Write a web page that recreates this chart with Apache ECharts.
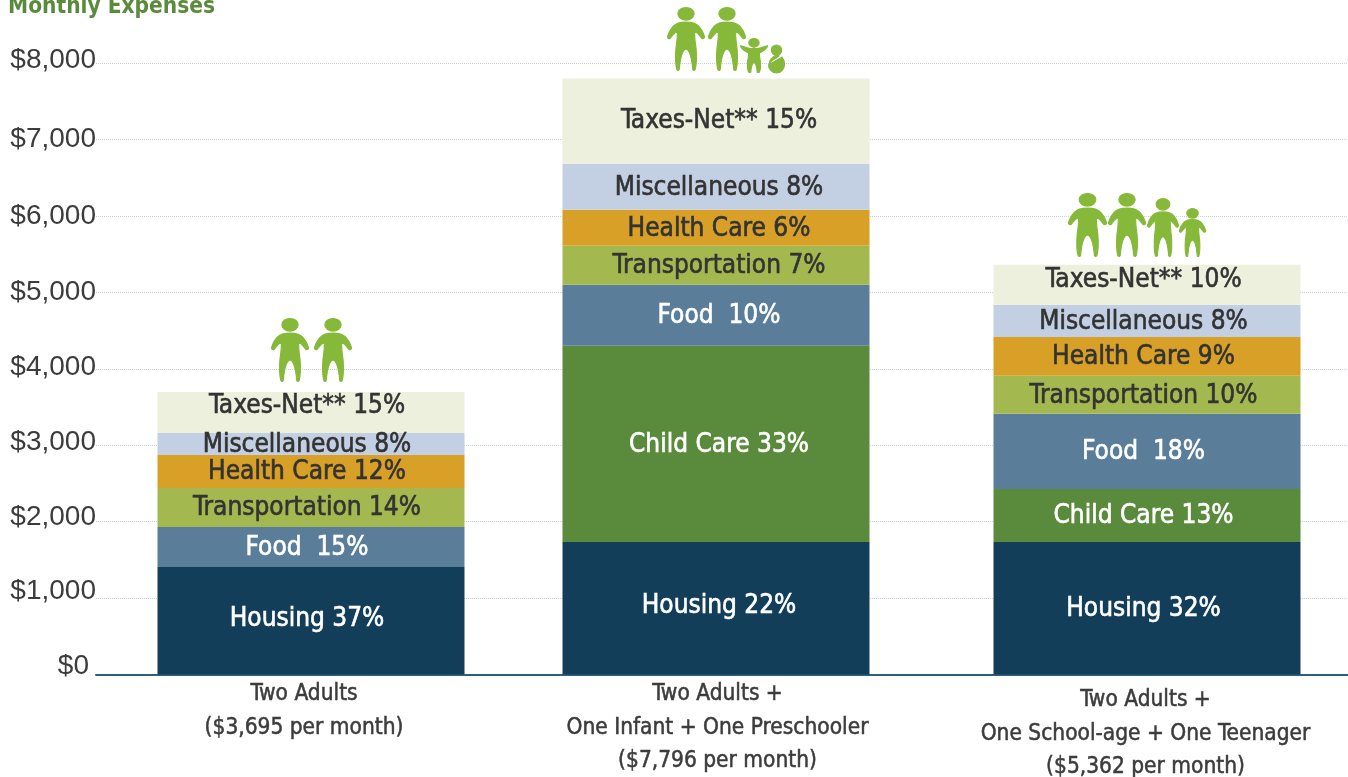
<!DOCTYPE html>
<html>
<head>
<meta charset="utf-8">
<title>Monthly Expenses</title>
<style>
html, body { margin: 0; padding: 0; background: #fff; }
#main { width: 1348px; height: 777px; }
</style>
<script src="https://cdn.jsdelivr.net/npm/echarts@6/dist/echarts.min.js"></script>
</head>
<body>
<div id="main"></div>
<script>
// data
var familyLabels = [
    ['Two Adults', '($3,695 per month)'],
    ['Two Adults +', 'One Infant + One Preschooler', '($7,796 per month)'],
    ['Two Adults +', 'One School-age + One Teenager', '($5,362 per month)']
];
var segmentNames = ['Housing', 'Child Care', 'Food', 'Transportation', 'Health Care', 'Miscellaneous', 'Taxes-Net**'];
var housing = [1405, 1734, 1734];
var childCare = [null, 2566, 694];
var food = [525, 798, 982];
var transportation = [510, 511, 497];
var healthCare = [432, 471, 510];
var miscellaneous = [288, 602, 419];
var taxesNet = [535, 1114, 526];
var housingPct = ['37%', '22%', '32%'];
var childCarePct = [null, '33%', '13%'];
var foodPct = ['15%', '10%', '18%'];
var transportationPct = ['14%', '7%', '10%'];
var healthCarePct = ['12%', '6%', '9%'];
var miscellaneousPct = ['8%', '8%', '8%'];
var taxesNetPct = ['15%', '15%', '10%'];
var yTicks = [0, 1000, 2000, 3000, 4000, 5000, 6000, 7000, 8000];

// layout
var barCenters = [215, 620, 1051];
var barWidth = 307;
var xLabelCenters = [208, 621.5, 1049.5];
var labelLift = { 0: 8.5, 1000: 7, 2000: 4, 3000: 3, 4000: 1.5, 5000: 0.5, 6000: 0, 7000: 0, 8000: 3 };
var labelShift = [-4, 3, -3.5];
var housingLift = [3, 3, 0];
var taxesLift = [7, 1, 5];
var noLift = [0, 0, 0];
var labelFont = '"DejaVu Sans Condensed", "Liberation Sans", sans-serif';

var PERSON = 'M32 19A25 19 0 1 1 82 19A25 19 0 1 1 32 19ZM57 44C75 44 88 48 97 57C106 67 112 78 114 88C114 94 109 96 105 92C99 83 92 76 84 71C82 85 85 100 88 125C90 150 90 170 85 188C83 191 80 191 78 188C76 165 70 128 57 125C44 128 38 165 36 188C34 191 31 191 29 188C24 170 24 150 26 125C29 100 32 85 30 71C22 76 15 83 9 92C5 96 0 94 0 88C2 78 8 67 17 57C26 48 39 44 57 44Z';
var CHILD = 'M27 13A16 13 0 1 1 59 13A16 13 0 1 1 27 13ZM43 30C50 31 56 31 62 29C70 27 78 24 85 22C85 27 78 33 72 37C68 40 64 42 60 43C58 52 62 62 63 72C64 85 63 95 60 102C57 104 55 104 53 102C52 90 50 76 43 72C36 76 34 90 33 102C31 104 29 104 26 102C23 95 22 85 23 72C24 62 28 52 26 43C22 42 18 40 14 37C8 33 1 27 1 22C8 24 16 27 24 29C30 31 36 31 43 30Z';
var BABY = 'M9 16A16 16 0 1 1 41 16A16 16 0 1 1 9 16ZM4 50C9 40 20 33 31 33C36 33 28 38 22 41C14 45 8 50 3 56ZM42 38C48 44 50 52 50 60C50 76 38 87 25 87C12 87 0 76 0 62C14 54 28 46 42 38Z';
var figures = [
    [PERSON, 271.5, 318.5, 37, 63], [PERSON, 314.5, 318.5, 37, 63],
    [PERSON, 667.5, 7.5, 37, 63], [PERSON, 708.5, 7.5, 37, 63], [CHILD, 740.5, 38.5, 27, 34], [BABY, 768.5, 45, 16, 28],
    [PERSON, 1068.5, 193.5, 38, 63], [PERSON, 1108.5, 193.5, 37, 63], [PERSON, 1147.5, 198.5, 31, 58], [PERSON, 1179.5, 208.5, 26, 48]
];

// running total per family, each segment sits on what is below it
var stackTops = [0, 0, 0];

function makeSeries(name, values, pcts, fill, textColor, lift) {
    var data = [];
    for (var i = 0; i < values.length; i++) {
        if (values[i] == null) continue;
        data.push({ value: [barCenters[i], stackTops[i], stackTops[i] + values[i]], family: i });
        stackTops[i] += values[i];
    }
    var sep = name == 'Food' ? '  ' : ' ';
    return {
        name: name,
        type: 'custom',
        encode: { x: 0, y: [1, 2] },
        data: data,
        renderItem: function (params, api) {
            var i = data[params.dataIndex].family;
            var low = api.coord([api.value(0), api.value(1)]);
            var high = api.coord([api.value(0), api.value(2)]);
            var w = api.size([barWidth, 0])[0];
            return {
                type: 'rect',
                shape: { x: low[0] - w / 2, y: high[1], width: w, height: low[1] - high[1] },
                style: { fill: fill },
                textContent: {
                    style: {
                        text: name + sep + pcts[i],
                        fontFamily: labelFont,
                        fontSize: 26,
                        fill: textColor,
                        stroke: textColor,
                        lineWidth: 0.6
                    }
                },
                textConfig: { position: 'inside', offset: [labelShift[i], 1 - lift[i]] }
            };
        }
    };
}

var yRich = {};
yTicks.forEach(function (t) {
    yRich['t' + t] = {
        fontFamily: '"Liberation Sans", sans-serif',
        fontSize: 28,
        color: '#3c3c3c',
        padding: [0, t == 0 ? 7 : 0, labelLift[t] * 2, 0]
    };
});

var seriesList = [
    makeSeries(segmentNames[0], housing, housingPct, '#133e5a', '#fff', housingLift),
    makeSeries(segmentNames[1], childCare, childCarePct, '#5a8a3c', '#fff', noLift),
    makeSeries(segmentNames[2], food, foodPct, '#5a7d99', '#fff', noLift),
    makeSeries(segmentNames[3], transportation, transportationPct, '#a3b94f', '#333', noLift),
    makeSeries(segmentNames[4], healthCare, healthCarePct, '#d8a026', '#333', noLift),
    makeSeries(segmentNames[5], miscellaneous, miscellaneousPct, '#c3cfe3', '#333', noLift),
    makeSeries(segmentNames[6], taxesNet, taxesNetPct, '#ecf0dd', '#333', taxesLift)
];

// the little family icons above the bars
seriesList.push({
    type: 'custom',
    coordinateSystem: 'none',
    silent: true,
    z: 10,
    data: figures.map(function (f, i) { return i; }),
    renderItem: function (params, api) {
        var f = figures[params.dataIndex];
        return {
            type: 'path',
            shape: { pathData: f[0], layout: 'cover', x: f[1], y: f[2], width: f[3], height: f[4] },
            style: { fill: '#86b93a', stroke: '#86b93a', lineWidth: 1.2 }
        };
    }
});

var option = {
    animation: false,
    backgroundColor: '#fff',
    title: {
        text: 'Monthly Expenses',
        left: 3,
        top: -9,
        textStyle: { fontFamily: labelFont, fontSize: 22.5, fontWeight: 'bold', color: '#5a8a3c' }
    },
    grid: { left: 96, right: 0, top: 63, bottom: 102.5, outerBoundsMode: 'none' },
    xAxis: {
        type: 'value',
        min: 0,
        max: 1252,
        splitLine: { show: false },
        axisTick: { show: false },
        axisLine: { show: true, lineStyle: { color: '#2f5f7c', width: 2 } },
        axisLabel: {
            customValues: xLabelCenters,
            margin: 3,
            hideOverlap: false,
            formatter: function (v) {
                var i = xLabelCenters.indexOf(v);
                var lines = familyLabels[i].map(function (line) {
                    return '{line|' + line + '}';
                });
                if (i == 2) lines.unshift('{gap| }');
                return lines.join('\n');
            },
            rich: {
                line: {
                    fontFamily: labelFont, fontSize: 22.5, color: '#3c3c3c', lineHeight: 33.5,
                    textBorderColor: '#3c3c3c', textBorderWidth: 0.5
                },
                gap: { fontSize: 4, lineHeight: 6 }
            }
        }
    },
    yAxis: {
        type: 'value',
        min: 0,
        max: 8000,
        interval: 1000,
        axisLine: { show: false },
        axisTick: { show: false },
        splitLine: { lineStyle: { color: '#c4d0e6', type: 'dotted', width: 1 } },
        axisLabel: {
            margin: 0,
            formatter: function (v) {
                return '{t' + v + '|$' + v.toLocaleString('en-US') + '}';
            },
            rich: yRich
        }
    },
    series: seriesList
};

var chart = echarts.init(document.getElementById('main'));
chart.setOption(option);
window.onresize = chart.resize;
</script>
</body>
</html>
